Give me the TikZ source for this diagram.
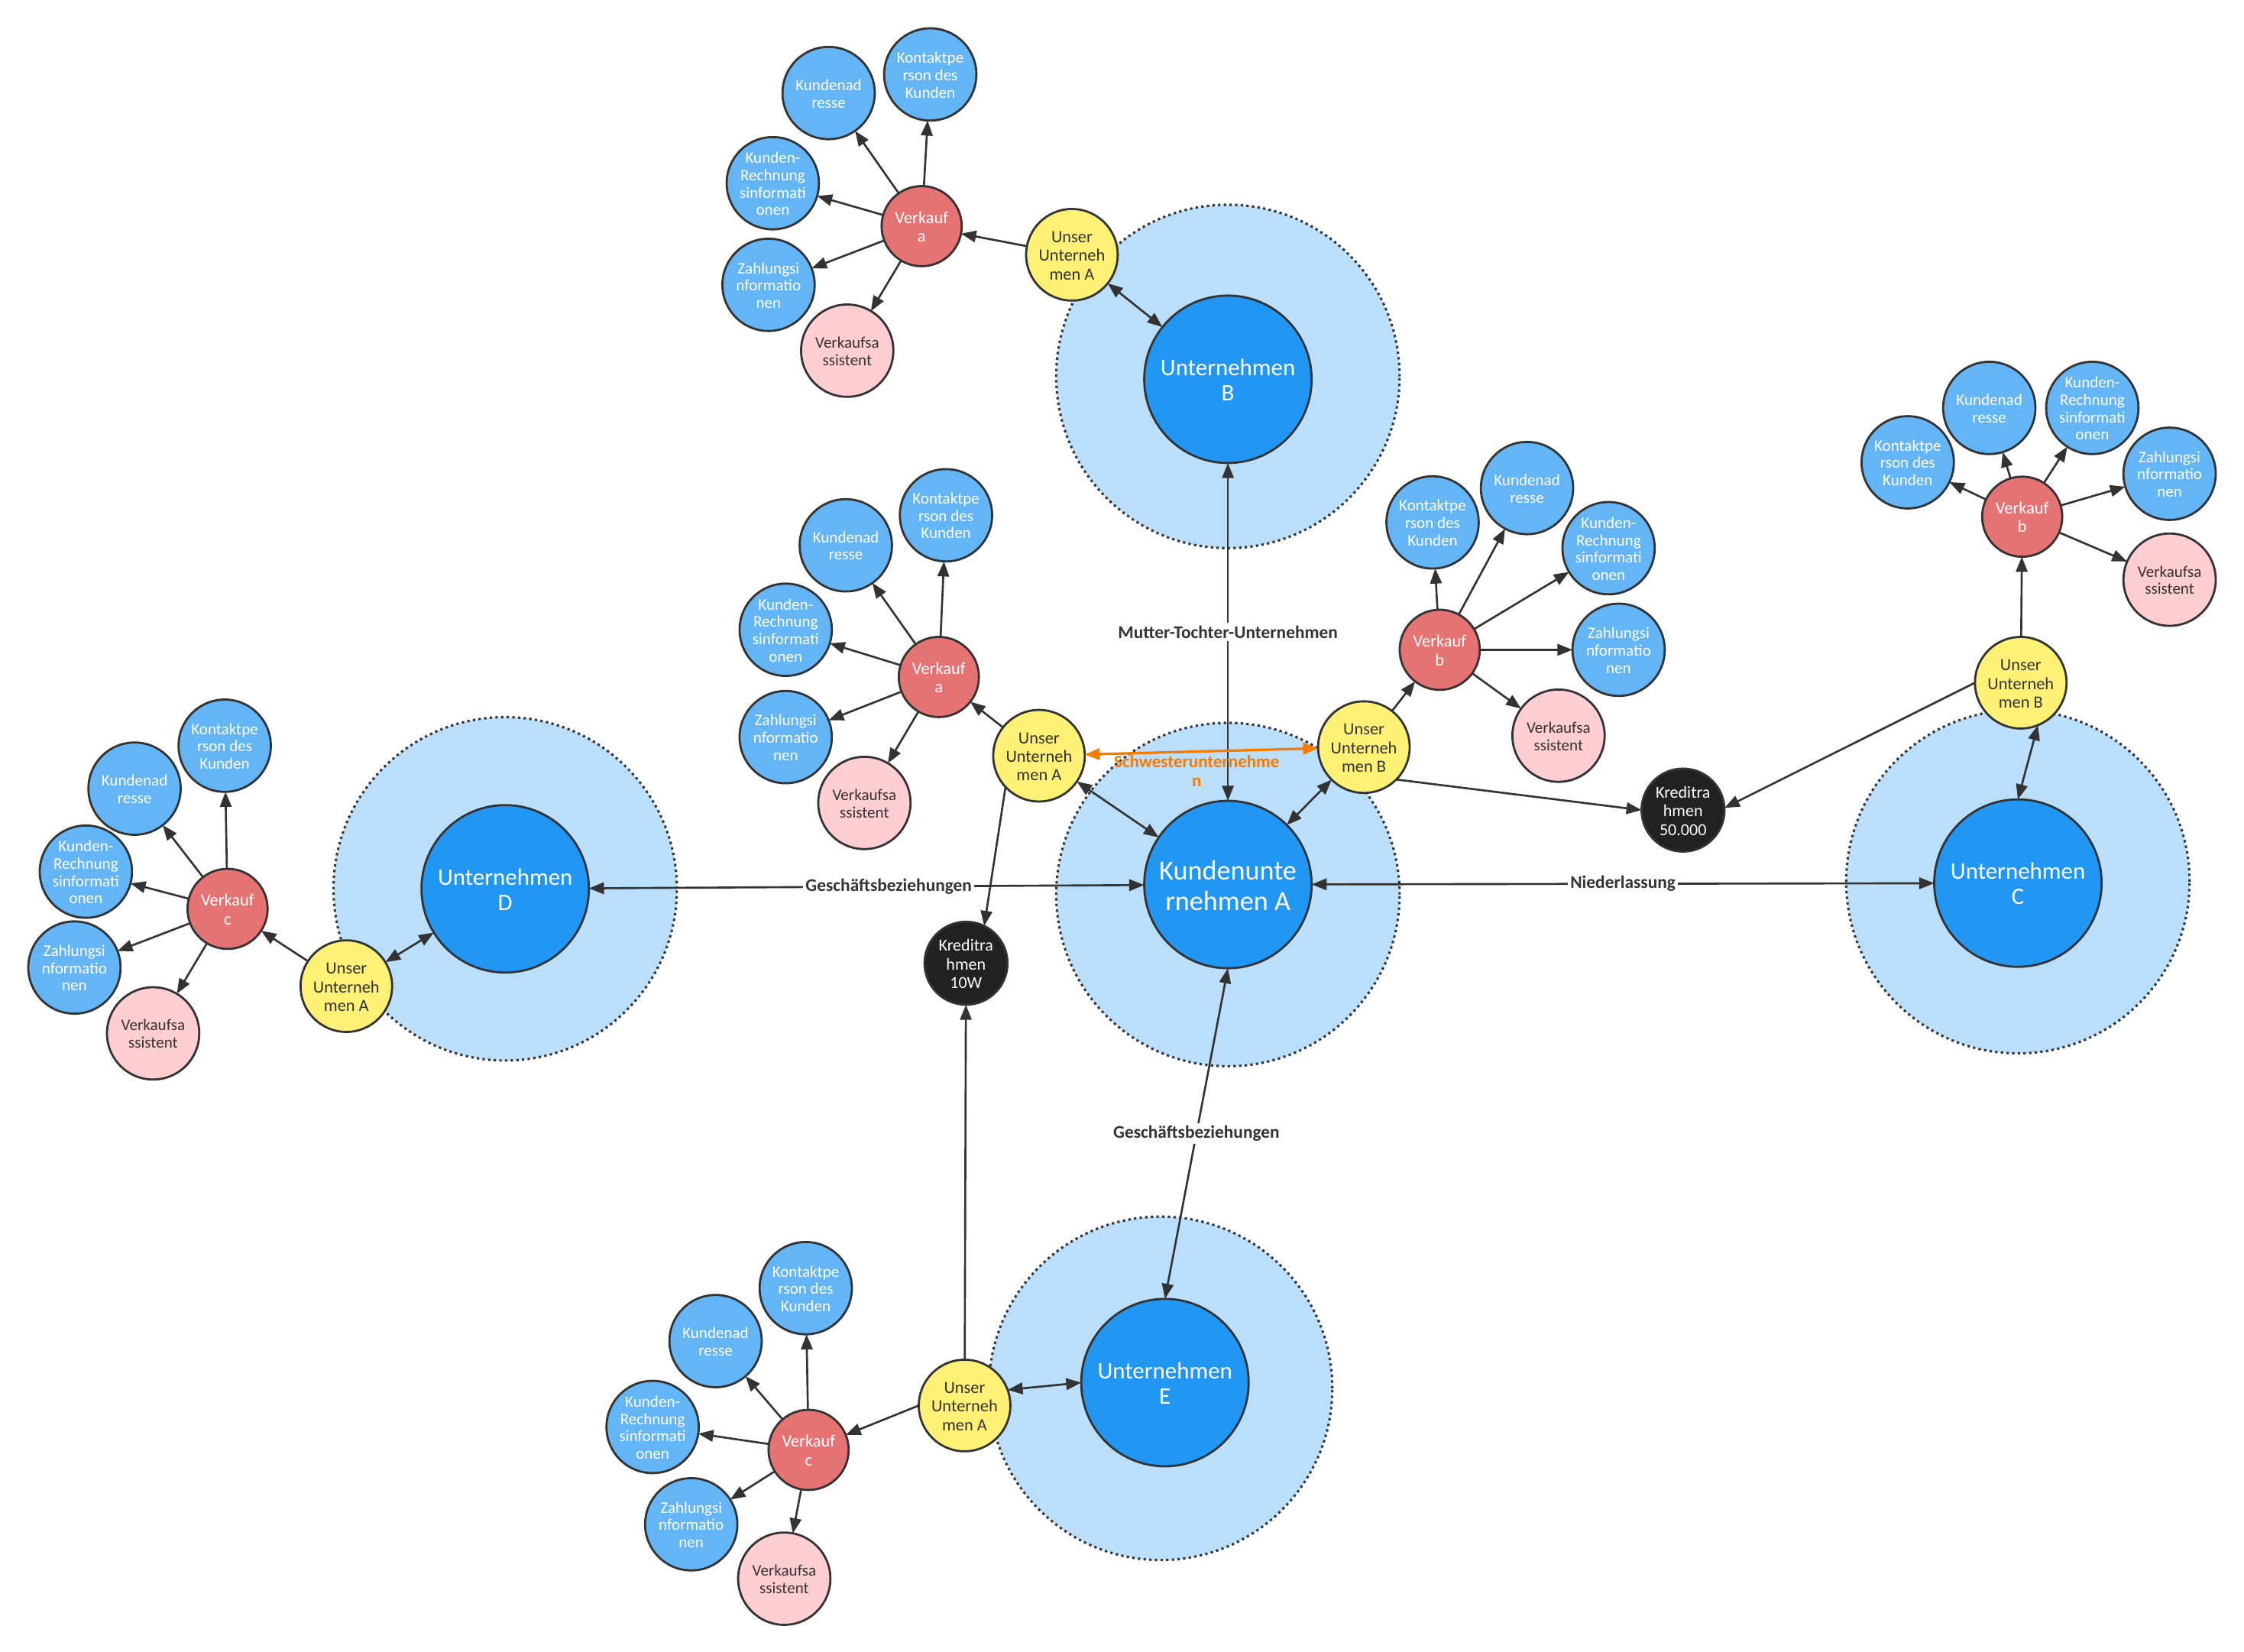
\documentclass[tikz,border=0pt]{standalone}
\usepackage{fontspec}
\setmainfont{Carlito}
\usetikzlibrary{arrows.meta}
\definecolor{halofill}{HTML}{BBDEFB}
\definecolor{firmblue}{HTML}{2196F3}
\definecolor{leafblue}{HTML}{64B5F6}
\definecolor{unseryel}{HTML}{FFF176}
\definecolor{salered}{HTML}{E57373}
\definecolor{asspink}{HTML}{FFCDD2}
\definecolor{kreditblk}{HTML}{212121}
\definecolor{edgegray}{HTML}{333333}
\definecolor{schwester}{HTML}{F57C00}
% text block that does not widen the circle it sits in
\newcommand{\ct}[1]{\makebox[0pt]{\raisebox{-0.5\height}[0pt][0pt]{\begin{tabular}[b]{@{}c@{}}#1\end{tabular}}}}
\tikzset{
  ball/.style   = {circle, draw=edgegray, line width=0.85pt, inner sep=0pt, outer sep=0pt},
  halo/.style   = {circle, fill=halofill, draw=edgegray, line width=0.95pt,
                   dash pattern=on 0.95pt off 1.3pt, minimum size=4.8cm, inner sep=0pt},
  firm/.style   = {ball, fill=firmblue, minimum size=2.34cm, text=white, font=\fontsize{9.4}{10.1}\selectfont},
  leaf/.style   = {ball, fill=leafblue, minimum size=1.29cm, text=white, font=\fontsize{6.4}{6.9}\selectfont},
  assist/.style = {leaf, fill=asspink, text=edgegray},
  sale/.style   = {ball, fill=salered, minimum size=1.12cm, text=white, font=\fontsize{6.8}{7.4}\selectfont},
  unser/.style  = {ball, fill=unseryel, minimum size=1.28cm, text=edgegray, font=\fontsize{6.8}{7.4}\selectfont},
  kredit/.style = {ball, fill=kreditblk, minimum size=1.16cm, text=white, font=\fontsize{6.7}{7.4}\selectfont},
  arr/.style    = {-{Triangle[length=6pt,width=4.6pt]}, edgegray, line width=0.8pt},
  biarr/.style  = {{Triangle[length=6pt,width=4.6pt]}-{Triangle[length=6pt,width=4.6pt]}, edgegray, line width=0.8pt},
  sisarr/.style = {biarr, schwester, line width=1pt},
  rel/.style    = {fill=white, text=edgegray, inner sep=1pt, font=\bfseries\fontsize{7.1}{8}\selectfont},
  sislbl/.style = {text=schwester, inner sep=0.5pt, align=center, font=\bfseries\fontsize{7}{7.4}\selectfont}
}

\begin{document}
\begin{tikzpicture}[x=0.02cm, y=-0.02cm]
  \useasboundingbox (0,0) rectangle (1568,1154);
  % --- the five firms, each in a light halo --------------------------------
  \node[halo] (haloA) at (858,625) {};
  \node[halo] (haloB) at (858,263) {};
  \node[halo] (haloC) at (1410,616) {};
  \node[halo] (haloD) at (353,621) {};
  \node[halo] (haloE) at (811,970) {};
  \node[firm, font=\fontsize{11}{12.2}\selectfont] (kundeA) at (858,618) {\ct{Kundenunte\\rnehmen A}};
  \node[firm] (firmB) at (858,265) {\ct{Unternehmen\\B}};
  \node[firm] (firmC) at (1410,617) {\ct{Unternehmen\\C}};
  \node[firm] (firmD) at (353,621) {\ct{Unternehmen\\D}};
  \node[firm] (firmE) at (814,966) {\ct{Unternehmen\\E}};
  % credit limits
  \node[kredit] (kr10) at (675,673) {\ct{Kreditra\\hmen\\10W}};
  \node[kredit] (kr50) at (1176,566) {\ct{Kreditra\\hmen\\50.000}};

  % --- sales cluster at firm B -----------------------------------------------
  \node[unser] (uaB) at (749,178) {\ct{Unser\\Unterneh\\men A}};
  \node[sale] (vkB) at (644,158) {\ct{Verkauf\\a}};
  \node[leaf] (adrB) at (579,65) {\ct{Kundenad\\resse}};
  \node[leaf] (konB) at (650,52) {\ct{Kontaktpe\\rson des\\Kunden}};
  \node[leaf] (rechB) at (540,128) {\ct{Kunden-\\Rechnung\\sinformati\\onen}};
  \node[leaf] (zahlB) at (537,199) {\ct{Zahlungsi\\nformatio\\nen}};
  \node[assist] (assB) at (592,245) {\ct{Verkaufsa\\ssistent}};

  % --- the two clusters next to the customer firm --------------------------
  \node[unser] (uaM) at (726,528) {\ct{Unser\\Unterneh\\men A}};
  \node[sale] (vkM) at (656,473) {\ct{Verkauf\\a}};
  \node[leaf] (adrM) at (591,381) {\ct{Kundenad\\resse}};
  \node[leaf] (konM) at (661,360) {\ct{Kontaktpe\\rson des\\Kunden}};
  \node[leaf] (rechM) at (549,440) {\ct{Kunden-\\Rechnung\\sinformati\\onen}};
  \node[leaf] (zahlM) at (549,515) {\ct{Zahlungsi\\nformatio\\nen}};
  \node[assist] (assM) at (604,561) {\ct{Verkaufsa\\ssistent}};

  \node[unser] (ubM) at (953,522) {\ct{Unser\\Unterneh\\men B}};
  \node[sale] (vkN) at (1006,454) {\ct{Verkauf\\b}};
  \node[leaf] (konN) at (1001,365) {\ct{Kontaktpe\\rson des\\Kunden}};
  \node[leaf] (adrN) at (1067,341) {\ct{Kundenad\\resse}};
  \node[leaf] (rechN) at (1124,383) {\ct{Kunden-\\Rechnung\\sinformati\\onen}};
  \node[leaf] (zahlN) at (1131,454) {\ct{Zahlungsi\\nformatio\\nen}};
  \node[assist] (assN) at (1089,514) {\ct{Verkaufsa\\ssistent}};

  % --- sales cluster at firm C -----------------------------------------------
  \node[unser] (ubC) at (1412,477) {\ct{Unser\\Unterneh\\men B}};
  \node[sale] (vkC) at (1413,361) {\ct{Verkauf\\b}};
  \node[leaf] (konC) at (1333,323) {\ct{Kontaktpe\\rson des\\Kunden}};
  \node[leaf] (adrC) at (1390,285) {\ct{Kundenad\\resse}};
  \node[leaf] (rechC) at (1462,285) {\ct{Kunden-\\Rechnung\\sinformati\\onen}};
  \node[leaf] (zahlC) at (1516,331) {\ct{Zahlungsi\\nformatio\\nen}};
  \node[assist] (assC) at (1516,405) {\ct{Verkaufsa\\ssistent}};

  % --- sales cluster at firm D -----------------------------------------------
  \node[unser] (uaD) at (242,689) {\ct{Unser\\Unterneh\\men A}};
  \node[sale] (vkD) at (159,635) {\ct{Verkauf\\c}};
  \node[leaf] (konD) at (157,521) {\ct{Kontaktpe\\rson des\\Kunden}};
  \node[leaf] (adrD) at (94,551) {\ct{Kundenad\\resse}};
  \node[leaf] (rechD) at (60,609) {\ct{Kunden-\\Rechnung\\sinformati\\onen}};
  \node[leaf] (zahlD) at (52,676) {\ct{Zahlungsi\\nformatio\\nen}};
  \node[assist] (assD) at (107,722) {\ct{Verkaufsa\\ssistent}};

  % --- sales cluster at firm E -----------------------------------------------
  \node[unser] (uaE) at (674,982) {\ct{Unser\\Unterneh\\men A}};
  \node[sale] (vkE) at (565,1013) {\ct{Verkauf\\c}};
  \node[leaf] (konE) at (563,900) {\ct{Kontaktpe\\rson des\\Kunden}};
  \node[leaf] (adrE) at (500,937) {\ct{Kundenad\\resse}};
  \node[leaf] (rechE) at (456,997) {\ct{Kunden-\\Rechnung\\sinformati\\onen}};
  \node[leaf] (zahlE) at (483,1065) {\ct{Zahlungsi\\nformatio\\nen}};
  \node[assist] (assE) at (548,1103) {\ct{Verkaufsa\\ssistent}};

  % --- relations between the firms -----------------------------------------
  \draw[biarr] (firmB) -- node[rel] {Mutter-Tochter-Unternehmen} (kundeA);
  \draw[biarr] (firmD) -- node[rel, pos=0.54] {Geschäftsbeziehungen} (kundeA);
  \draw[biarr] (kundeA) -- node[rel] {Niederlassung} (firmC);
  \draw[biarr] (kundeA.south) -- node[rel] {Geschäftsbeziehungen} (firmE.north);
  \draw[sisarr] (uaM) -- node[sislbl, below=0.5pt, pos=0.48] {Schwesterunternehme\\n} (ubM);

  % --- our side of each relation -------------------------------------------
  \draw[biarr] (uaB) -- (firmB);
  \draw[arr] (uaB) -- (vkB);
  \draw[biarr] (uaM) -- (kundeA);
  \draw[arr] (uaM) -- (vkM);
  \draw[arr] (uaM.223) -- (kr10.64);
  \draw[biarr] (ubM) -- (kundeA);
  \draw[arr] (ubM) -- (vkN);
  \draw[arr] (ubM.-45) -- (kr50.180);
  \draw[biarr] (ubC.-68) -- (firmC.north);
  \draw[arr] (ubC) -- (vkC);
  \draw[arr] (ubC.180) -- (kr50.3);
  \draw[biarr] (uaD) -- (firmD);
  \draw[arr] (uaD) -- (vkD);
  \draw[biarr] (uaE.20) -- (firmE.180);
  \draw[arr] (uaE.180) -- (vkE);
  \draw[arr] (uaE) -- (kr10);

  % sales data hanging off each Verkauf node
  \path[arr] (vkB) edge (adrB) edge (konB) edge (rechB) edge (zahlB) edge (assB);
  \path[arr] (vkM) edge (adrM) edge (konM) edge (rechM) edge (zahlM) edge (assM);
  \path[arr] (vkN) edge (adrN) edge (konN) edge (rechN) edge (zahlN) edge (assN);
  \path[arr] (vkC) edge (adrC) edge (konC) edge (rechC) edge (zahlC) edge (assC);
  \path[arr] (vkD) edge (adrD) edge (konD) edge (rechD) edge (zahlD) edge (assD);
  \path[arr] (vkE) edge (adrE) edge (konE) edge (rechE) edge (zahlE) edge (assE);
\end{tikzpicture}
\end{document}
